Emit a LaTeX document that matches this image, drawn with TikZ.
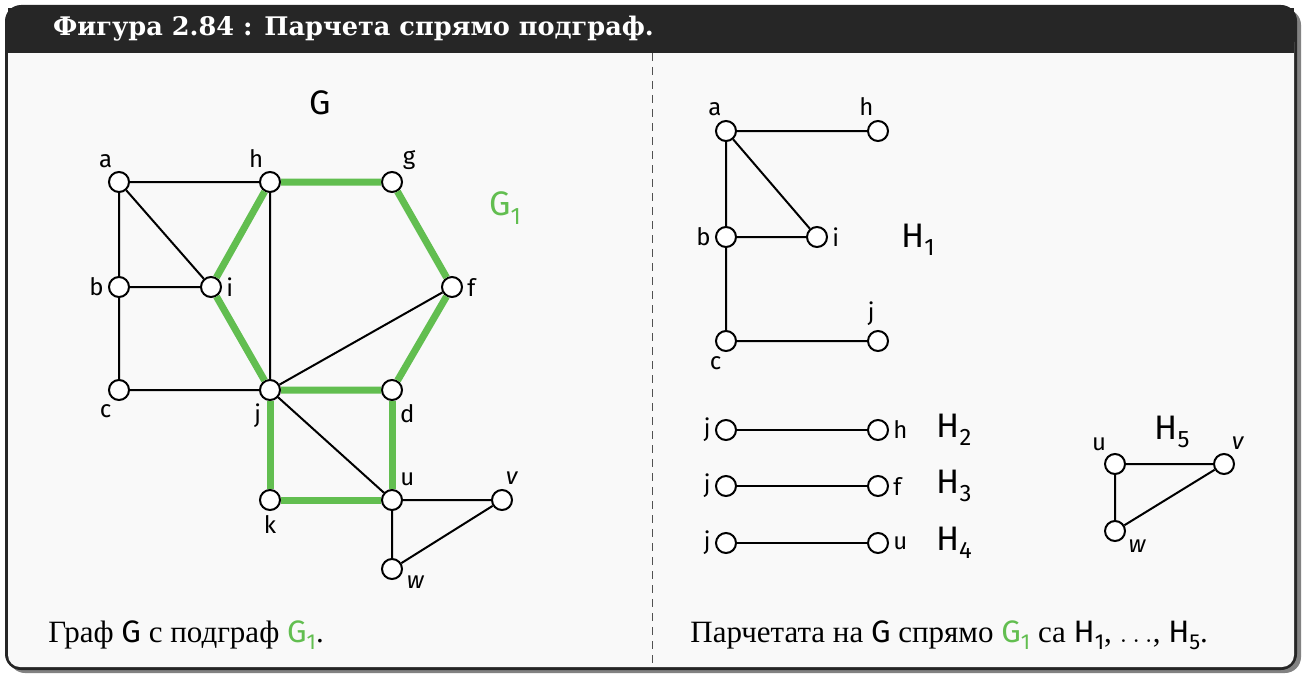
\documentclass[tikz,border=0pt]{standalone}
\usepackage{fontspec}
\setmainfont{Liberation Serif}
\newfontfamily\lblfont{Fira Sans}
\newfontfamily\titlefont{DejaVu Serif}
\newcommand{\idx}[1]{\raisebox{-0.25em}{\scalebox{0.7}{#1}}}
\definecolor{subgreen}{RGB}{98,190,80}
\definecolor{framedark}{RGB}{38,38,38}
\definecolor{bodybg}{RGB}{249,249,249}
\definecolor{shadowgray}{RGB}{130,130,130}
\begin{document}
\begin{tikzpicture}[x=0.5pt, y=-0.5pt,
      vertex/.style={circle, draw, fill=white, line width=1pt, minimum size=10pt, inner sep=0pt},
      link/.style={line width=1pt},
      sub/.style={line width=3.5pt, subgreen},
      every label/.style={font=\lblfont\fontsize{12}{14}\selectfont, inner sep=1pt},
      label distance=1pt,
      big/.style={font=\lblfont\fontsize{17}{20}\selectfont, inner sep=0pt},
      capt/.style={anchor=base west, font=\fontsize{15.5}{18}\selectfont, inner sep=0pt}]
      \useasboundingbox (0,0) rectangle (1304,674);
      % frame
      \fill[shadowgray, rounded corners=8] (9,9) rectangle (1301,673);
      \fill[framedark, rounded corners=8] (5,5) rectangle (1297,670);
      \fill[bodybg, rounded corners=6] (8,30) rectangle (1294,667);
      \fill[framedark] (8,8) rectangle (1294,53);
      \node[anchor=west, text=white, font=\titlefont\bfseries\fontsize{12.8}{15}\selectfont] (title) at (46,29) {Фигура 2.84 : Парчета спрямо подграф.};
      \draw[framedark!80, line width=0.5pt, dash pattern=on 4pt off 3pt] (652,53) -- (652,668);

      % graph G
      \node[big] (gname) at (320,103) {G};
      \node[big, text=subgreen] (g1name) at (505,208) {G\idx{1}};
      \node[vertex, label={110:a}] (a) at (119,182) {};
      \node[vertex, label={110:h}] (h) at (270,182) {};
      \node[vertex, label={50:g}] (g) at (392,182) {};
      \node[vertex, label={180:b}] (b) at (119,287) {};
      \node[vertex, label={0:i}] (i) at (211,287) {};
      \node[vertex, label={0:f}] (f) at (452,287) {};
      \node[vertex, label={246:c}] (c) at (119,390) {};
      \node[vertex, label={240:j}] (j) at (270,390) {};
      \node[vertex, label={296:d}] (d) at (392,390) {};
      \node[vertex, label={270:k}] (k) at (270,500) {};
      \node[vertex, label={63:u}] (u) at (392,500) {};
      \node[vertex, label={83:\itshape v}] (v) at (502,500) {};
      \node[vertex, label={342:\itshape w}] (w) at (392,569) {};
      \draw[sub] (h) -- (g) -- (f) -- (d) -- (j) -- (i) -- (h);
      \draw[sub] (j) -- (k) -- (u) -- (d);
      \draw[link] (a) -- (h) (a) -- (b) -- (c) -- (j) (a) -- (i) -- (b);
      \draw[link] (h) -- (j) -- (f) (j) -- (u) -- (v) -- (w) -- (u);
      \node[capt] (captG) at (48,642) {Граф {\lblfont G} с подграф {\lblfont\color{subgreen}G\idx{1}}.};

      % pieces
      \node[big] (h1name) at (918,240) {H\idx{1}};
      \node[vertex, label={100:a}] (a1) at (726,131) {};
      \node[vertex, label={100:h}] (h1) at (878,131) {};
      \node[vertex, label={180:b}] (b1) at (726,237) {};
      \node[vertex, label={0:i}] (i1) at (817,237) {};
      \node[vertex, label={260:c}] (c1) at (726,341) {};
      \node[vertex, label={95:j}] (j1) at (878,341) {};
      \draw[link] (a1) -- (h1) (a1) -- (b1) -- (c1) -- (j1) (a1) -- (i1) -- (b1);

      \node[vertex, label={180:j}] (j2) at (726,430) {};
      \node[vertex, label={0:h}] (h2) at (878,430) {};
      \node[big] (h2name) at (954,430) {H\idx{2}};
      \node[vertex, label={180:j}] (j3) at (726,486) {};
      \node[vertex, label={0:f}] (f3) at (878,486) {};
      \node[big] (h3name) at (954,486) {H\idx{3}};
      \node[vertex, label={180:j}] (j4) at (726,543) {};
      \node[vertex, label={0:u}] (u4) at (878,543) {};
      \node[big] (h4name) at (954,543) {H\idx{4}};
      \draw[link] (j2) -- (h2) (j3) -- (f3) (j4) -- (u4);

      \node[big] (h5name) at (1172,432) {H\idx{5}};
      \node[vertex, label={120:u}] (u5) at (1115,464) {};
      \node[vertex, label={65:\itshape v}] (v5) at (1224,464) {};
      \node[vertex, label={330:\itshape w}] (w5) at (1115,531) {};
      \draw[link] (u5) -- (v5) -- (w5) -- (u5);
      \node[capt] (captH) at (690,642) {Парчетата на {\lblfont G} спрямо {\lblfont\color{subgreen}G\idx{1}} са {\lblfont H\idx{1}}, $\ldots$, {\lblfont H\idx{5}}.};
    \end{tikzpicture}
\end{document}
